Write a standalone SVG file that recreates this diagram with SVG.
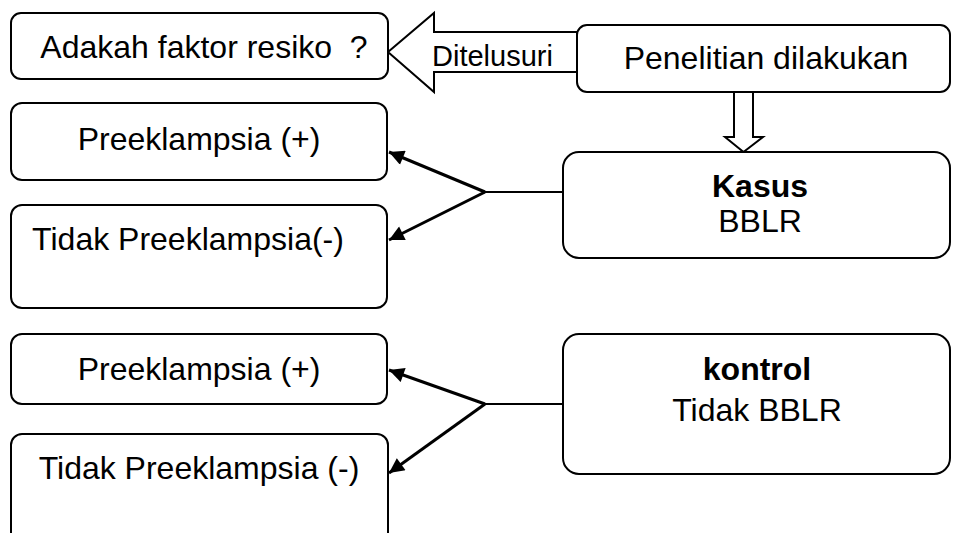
<svg xmlns="http://www.w3.org/2000/svg" width="953" height="533" viewBox="0 0 953 533">
<defs>
<style>
.box{fill:#fff;stroke:#000;stroke-width:2}
.t{font-family:"Liberation Sans",Arial,sans-serif;font-size:32px;fill:#000;text-anchor:middle;white-space:pre}
.b{font-weight:bold}
.c{fill:none;stroke:#000;stroke-width:3}
.h{fill:none;stroke:#000;stroke-width:2}
.big{fill:#fff;stroke:#000;stroke-width:2;stroke-linejoin:miter}
</style>
<marker id="ah" viewBox="0 0 10 10" refX="10" refY="5" markerWidth="6" markerHeight="5" orient="auto" markerUnits="strokeWidth">
<path d="M0,0 L10,5 L0,10 z" fill="#000"/>
</marker>
</defs>
<rect width="953" height="533" fill="#fff"/>
<g id="connectors">
<polygon class="big" points="388,52 434,13 434,32 577,32 577,72 434,72 434,92"/>
<text class="t" x="432" y="66" style="font-size:29px;text-anchor:start">Ditelusuri</text>
<polygon class="big" points="734,92 734,137 725,137 743.5,152 763,137 753,137 753,92"/>
<line class="h" x1="563" y1="192" x2="485" y2="192"/>
<line class="c" x1="485" y1="192" x2="389" y2="152" marker-end="url(#ah)"/>
<line class="c" x1="485" y1="192" x2="389" y2="240" marker-end="url(#ah)"/>
<line class="h" x1="563" y1="404" x2="485" y2="404"/>
<line class="c" x1="485" y1="404" x2="389" y2="370" marker-end="url(#ah)"/>
<line class="c" x1="485" y1="404" x2="389" y2="473" marker-end="url(#ah)"/>
</g>
<g id="adakah">
<rect class="box" x="11" y="13" width="377" height="66" rx="10"/>
<text class="t" x="204" y="58">Adakah faktor resiko  ?</text>
</g>
<g id="penelitian">
<rect class="box" x="577" y="25" width="373" height="67" rx="10"/>
<text class="t" x="766" y="69">Penelitian dilakukan</text>
</g>
<g id="preek1">
<rect class="box" x="11" y="103" width="376" height="77" rx="11"/>
<text class="t" x="199" y="150">Preeklampsia (+)</text>
</g>
<g id="tidak1">
<rect class="box" x="11" y="205" width="376" height="103" rx="11"/>
<text class="t" x="188" y="250">Tidak Preeklampsia(-)</text>
</g>
<g id="kasus">
<rect class="box" x="563" y="152" width="387" height="106" rx="16"/>
<text class="t b" x="760" y="197">Kasus</text>
<text class="t" x="760" y="232">BBLR</text>
</g>
<g id="preek2">
<rect class="box" x="11" y="334" width="376" height="70" rx="11"/>
<text class="t" x="199" y="380">Preeklampsia (+)</text>
</g>
<g id="tidak2">
<rect class="box" x="11" y="434" width="377" height="120" rx="11"/>
<text class="t" x="199" y="479">Tidak Preeklampsia (-)</text>
</g>
<g id="kontrol">
<rect class="box" x="563" y="334" width="387" height="140" rx="16"/>
<text class="t b" x="757" y="380">kontrol</text>
<text class="t" x="757" y="421">Tidak BBLR</text>
</g>
</svg>
